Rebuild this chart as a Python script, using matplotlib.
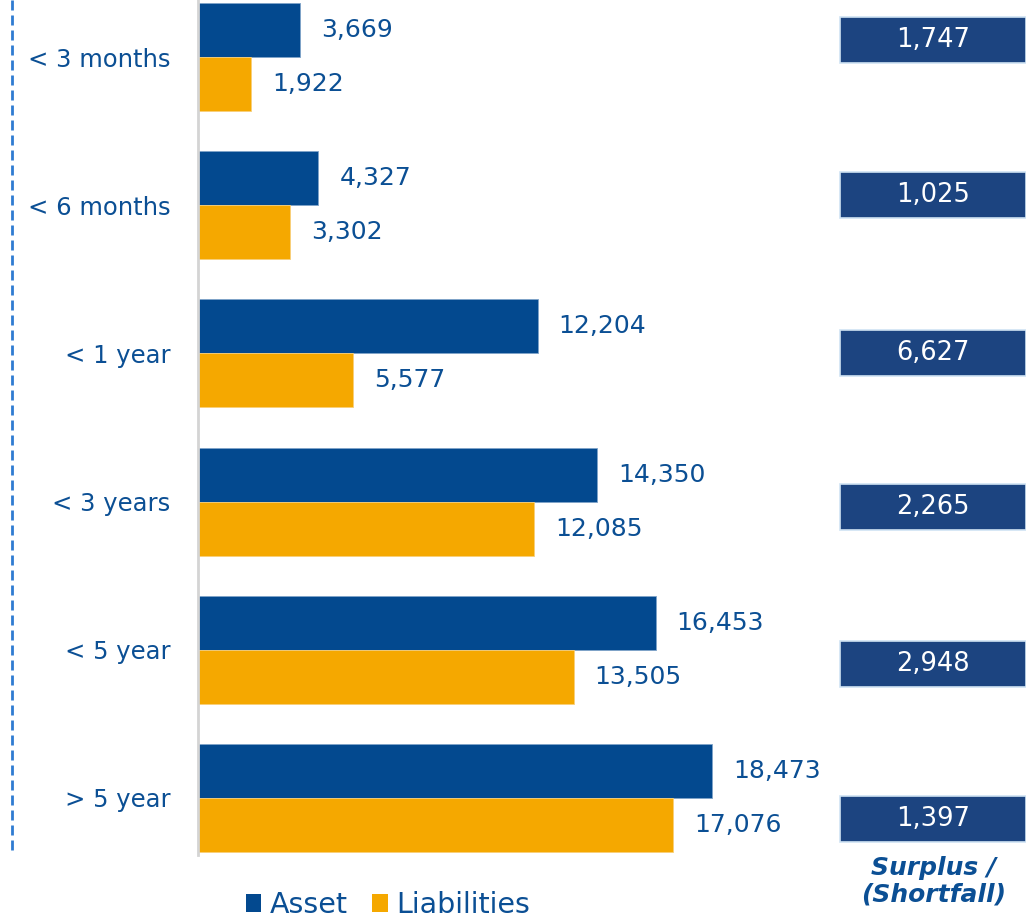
import matplotlib.pyplot as plt
from matplotlib.patches import Patch, Rectangle
from matplotlib.lines import Line2D

# maturity buckets and balances
buckets = ['< 3 months', '< 6 months', '< 1 year', '< 3 years', '< 5 year', '> 5 year']
assets = [3669, 4327, 12204, 14350, 16453, 18473]
liabilities = [1922, 3302, 5577, 12085, 13505, 17076]
surplus = [1747, 1025, 6627, 2265, 2948, 1397]

ASSET_COLOR = '#03498f'
LIAB_COLOR = '#f5a800'
TEXT_COLOR = '#0b4f94'
BOX_COLOR = '#1c4480'

W, H = 1026, 921
fig = plt.figure(figsize=(W / 100, H / 100), dpi=100)
fig.patch.set_facecolor('white')


def px(x, y):
    """pixel (from top-left) -> figure fraction"""
    return x / W, 1 - y / H


# bar axes
left, top, right, bottom = 198, 0, 820, 855
ax = fig.add_axes([left / W, 1 - bottom / H, (right - left) / W, (bottom - top) / H])
ax.set_facecolor('none')

bar_h = 0.365
pos = list(range(len(buckets)))
ax.barh([p - bar_h / 2 for p in pos], assets, height=bar_h, color=ASSET_COLOR, edgecolor='#7fa3c9', linewidth=0.6)
ax.barh([p + bar_h / 2 for p in pos], liabilities, height=bar_h, color=LIAB_COLOR, edgecolor='#f8cf7a', linewidth=0.6)

ax.set_xlim(0, 22350)
ax.set_ylim(len(buckets) - 0.615, -0.385)

for p, a, l in zip(pos, assets, liabilities):
    ax.annotate(f'{a:,}', (a, p - bar_h / 2), xytext=(15, 0), textcoords='offset points',
                va='center', ha='left', fontsize=18, color=TEXT_COLOR)
    ax.annotate(f'{l:,}', (l, p + bar_h / 2), xytext=(15, 0), textcoords='offset points',
                va='center', ha='left', fontsize=18, color=TEXT_COLOR)

ax.set_yticks(pos)
ax.set_yticklabels(buckets, fontsize=17.5, color=TEXT_COLOR)
ax.tick_params(axis='y', length=0, pad=20)
ax.set_xticks([])
for side in ['top', 'right', 'bottom']:
    ax.spines[side].set_visible(False)
ax.spines['left'].set_color('#d4d4d4')
ax.spines['left'].set_linewidth(2)

# dashed guide on the far left
x0, y0 = px(12, 0)
x1, y1 = px(12, 850)
fig.add_artist(Line2D([x0, x1], [y0, y1], transform=fig.transFigure, color='#2f7bd1',
                      linewidth=2.0, linestyle=(0, (3.6, 1.8))))

# surplus / shortfall boxes
box_offsets = [-17, -10, 0, 6, 15, 22]
for i, (s, off) in enumerate(zip(surplus, box_offsets)):
    cy = 57 + 148 * i + off
    bx, by = px(840, cy + 23)
    fig.add_artist(Rectangle((bx, by), (W - 840) / W, 46 / H, transform=fig.transFigure,
                             facecolor=BOX_COLOR, edgecolor='#cfe3f3', linewidth=1.2))
    tx, ty = px(933, cy)
    fig.text(tx, ty, f'{s:,}', ha='center', va='center', fontsize=18.5, color='white')

tx, ty = px(934, 881)
fig.text(tx, ty, 'Surplus /\n(Shortfall)', ha='center', va='center', fontsize=18,
         fontweight='bold', fontstyle='italic', color=TEXT_COLOR, linespacing=1.15)

# legend
handles = [Patch(facecolor=ASSET_COLOR, label='Asset'), Patch(facecolor=LIAB_COLOR, label='Liabilities')]
lx, ly = px(388, 905)
leg = fig.legend(handles=handles, loc='center', bbox_to_anchor=(lx, ly), ncol=2, frameon=False,
                 fontsize=20.5, handlelength=0.55, handleheight=0.55, handletextpad=0.3, columnspacing=0.85)
for t in leg.get_texts():
    t.set_color(TEXT_COLOR)

fig.savefig('out.png', dpi=100)
